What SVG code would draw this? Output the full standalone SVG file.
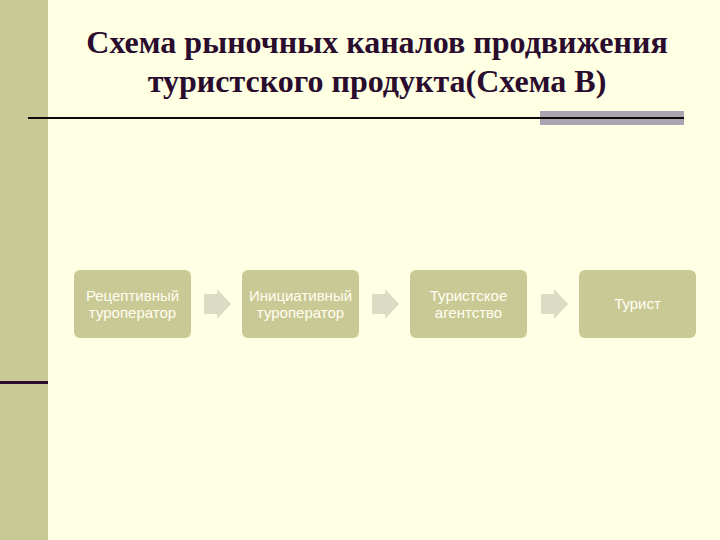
<svg xmlns="http://www.w3.org/2000/svg" width="720" height="540" viewBox="0 0 720 540">
<defs>
<style>
.box{fill:#C9C995;}
.lbl{font-family:"Liberation Sans",Arial,sans-serif;font-size:15px;fill:#FFFFF0;text-anchor:middle;}
.ttl{font-family:"Liberation Serif","Times New Roman",serif;font-size:32px;font-weight:bold;fill:#2A0C2E;text-anchor:middle;}
.arr{fill:#DCDCC4;}
</style>
</defs>
<rect x="0" y="0" width="720" height="540" fill="#FFFFE3"/>
<rect x="0" y="0" width="48" height="540" fill="#C9C996"/>
<rect x="0" y="381" width="48" height="3" fill="#2A0C2E"/>
<rect x="540" y="111" width="144" height="14" fill="#A9A3B2"/>
<rect x="28" y="117" width="656" height="2" fill="#0A0A0A"/>
<text class="ttl" x="377" y="53">Схема рыночных каналов продвижения</text>
<text class="ttl" x="377" y="92">туристского продукта(Схема В)</text>
<g id="connectors">
<path class="arr" d="M204,294 H217 V289 L231,304 L217,319 V314 H204 Z"/>
<path class="arr" d="M372,294 H385 V289 L399,304 L385,319 V314 H372 Z"/>
<path class="arr" d="M541,294 H554 V289 L568,304 L554,319 V314 H541 Z"/>
</g>
<g id="node1">
<rect class="box" x="74" y="270" width="117" height="68" rx="6"/>
<text class="lbl" x="132.5" y="301">Рецептивный</text>
<text class="lbl" x="132.5" y="318">туроператор</text>
</g>
<g id="node2">
<rect class="box" x="242" y="270" width="117" height="68" rx="6"/>
<text class="lbl" x="300.5" y="301">Инициативный</text>
<text class="lbl" x="300.5" y="318">туроператор</text>
</g>
<g id="node3">
<rect class="box" x="410" y="270" width="117" height="68" rx="6"/>
<text class="lbl" x="468.5" y="301">Туристское</text>
<text class="lbl" x="468.5" y="318">агентство</text>
</g>
<g id="node4">
<rect class="box" x="579" y="270" width="117" height="68" rx="6"/>
<text class="lbl" x="637.5" y="309">Турист</text>
</g>
</svg>
